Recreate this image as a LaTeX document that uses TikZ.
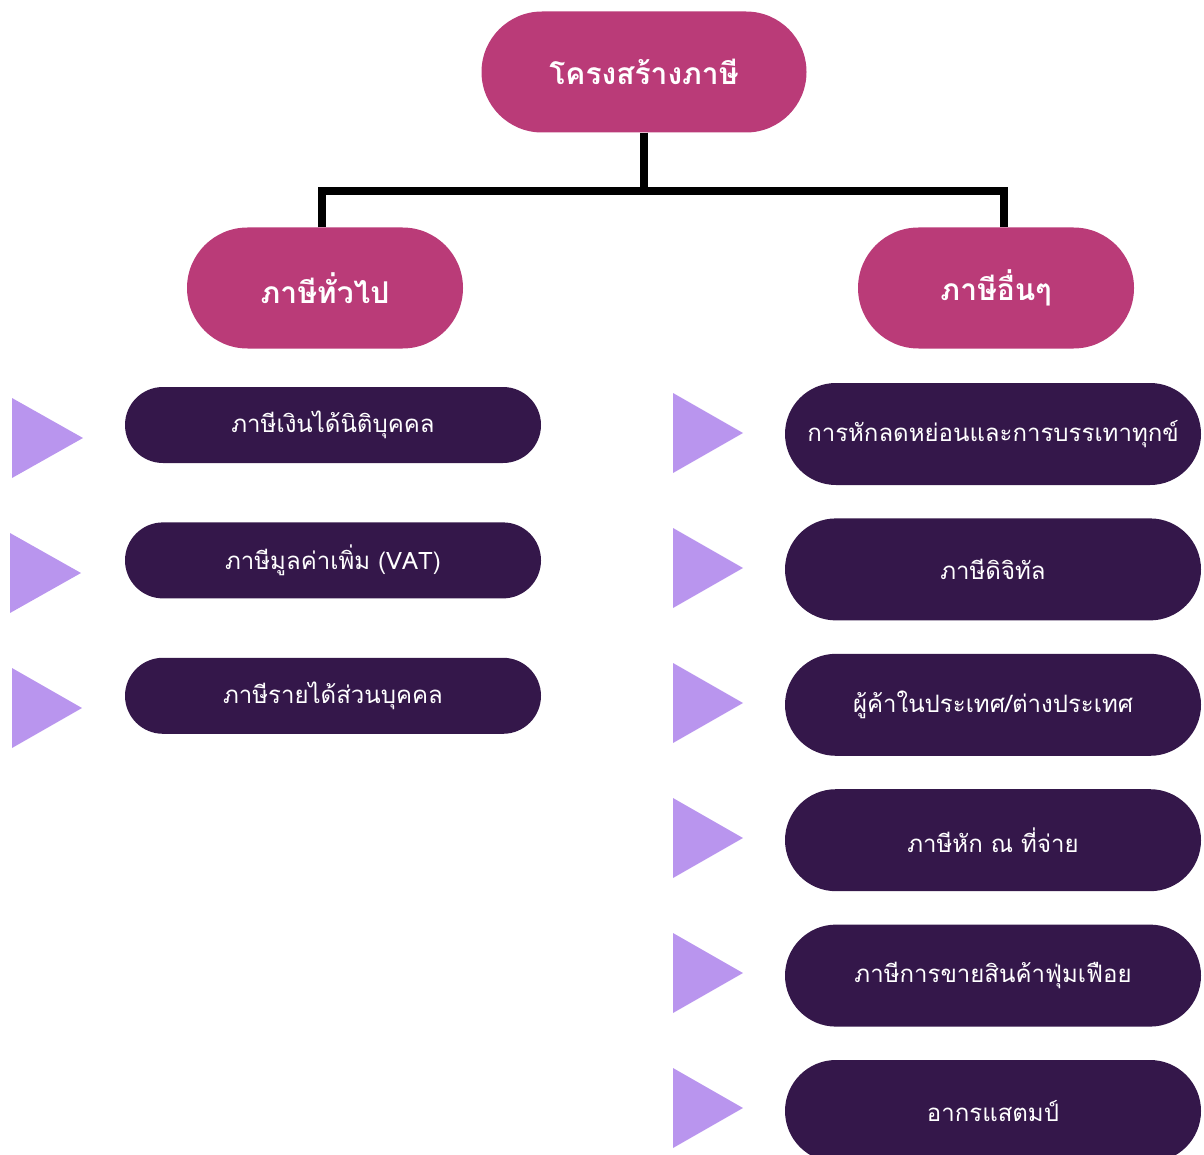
\documentclass[tikz,border=0pt]{standalone}
\usepackage{fontspec}
\usepackage{xcolor}
\usepackage{tikz}
\usetikzlibrary{shapes, positioning}

\newfontfamily\thaifont[Script=Thai]{Loma}
\definecolor{taxpink}{HTML}{BA3B78}
\definecolor{taxdark}{HTML}{34174A}
\definecolor{taxlilac}{HTML}{B995EE}

\begin{document}
\begin{tikzpicture}[
            x=1pt, y=-1pt,
            head/.style={rounded rectangle, fill=taxpink, text=white, inner sep=0pt, minimum height=121pt, font=\thaifont\bfseries\fontsize{30}{36}\selectfont},
            item/.style={rounded rectangle, fill=taxdark, text=white, inner sep=0pt, font=\thaifont\fontsize{24}{29}\selectfont},
            leftitem/.style={item, minimum width=416pt, minimum height=76pt},
            rightitem/.style={item, minimum width=416pt, minimum height=102pt},
            link/.style={line width=8pt, black},
            marker/.style={fill=taxlilac}
        ]
        \path[use as bounding box, clip] (0,0) rectangle (1204,1155);

        \node[head, minimum width=325pt] (tax_structure) at (644,72) {โครงสร้างภาษี};
        \node[head, minimum width=276pt] (tax_general) at (325,288) {ภาษีทั่วไป};
        \node[head, minimum width=276pt] (tax_other) at (996,288) {ภาษีอื่นๆ};

        % Tree lines
        \coordinate (bar) at (644,191);
        \draw[link] (tax_structure.south) -- (bar);
        \draw[link] ([xshift=-3pt]tax_general.north) |- (bar) -| ([xshift=8pt]tax_other.north);

        % General taxes
        \node[leftitem] (gen_corp) at (333,425) {ภาษีเงินได้นิติบุคคล};
        \node[leftitem, below=59pt of gen_corp] (gen_vat) {ภาษีมูลค่าเพิ่ม (VAT)};
        \node[leftitem, below=59pt of gen_vat] (gen_personal) {ภาษีรายได้ส่วนบุคคล};

        % Other taxes
        \node[rightitem] (oth_relief) at (993,434) {การหักลดหย่อนและการบรรเทาทุกข์};
        \node[rightitem, below=33pt of oth_relief] (oth_digital) {ภาษีดิจิทัล};
        \node[rightitem, below=33pt of oth_digital] (oth_trader) {ผู้ค้าในประเทศ/ต่างประเทศ};
        \node[rightitem, below=33pt of oth_trader] (oth_withhold) {ภาษีหัก ณ ที่จ่าย};
        \node[rightitem, below=33pt of oth_withhold] (oth_luxury) {ภาษีการขายสินค้าฟุ่มเฟือย};
        \node[rightitem, below=33pt of oth_luxury] (oth_stamp) {อากรแสตมป์};

        % Pointers
        \fill[marker] (12,398) -- (83,438) -- (12,478) -- cycle;
        \fill[marker] (10,533) -- (81,573) -- (10,613) -- cycle;
        \fill[marker] (12,668) -- (82,708) -- (12,748) -- cycle;

        \fill[marker] (673,393) -- (743,433) -- (673,473) -- cycle;
        \fill[marker] (673,528) -- (743,568) -- (673,608) -- cycle;
        \fill[marker] (673,663) -- (743,703) -- (673,743) -- cycle;
        \fill[marker] (673,798) -- (743,838) -- (673,878) -- cycle;
        \fill[marker] (673,933) -- (743,973) -- (673,1013) -- cycle;
        \fill[marker] (673,1068) -- (743,1108) -- (673,1148) -- cycle;

    \end{tikzpicture}
\end{document}
